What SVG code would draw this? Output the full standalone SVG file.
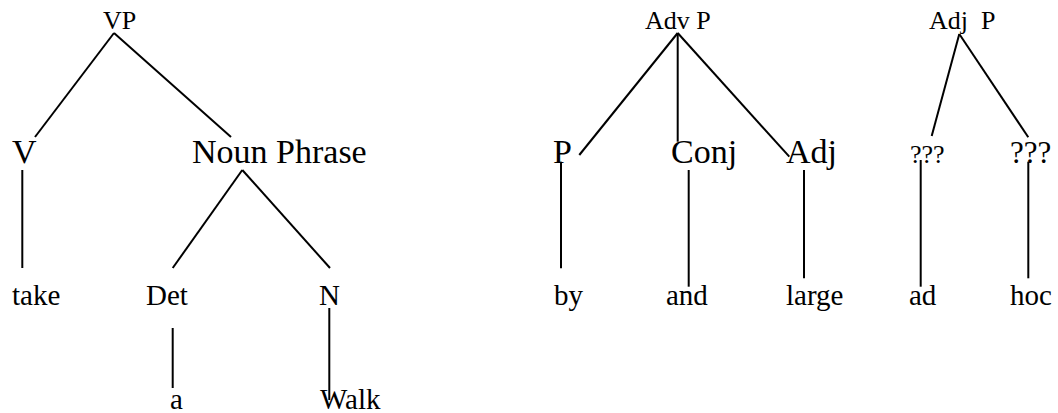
<svg xmlns="http://www.w3.org/2000/svg" width="1058" height="413" viewBox="0 0 1058 413">
<style>
text{font-family:"Liberation Serif","Times New Roman",serif;fill:#000;white-space:pre}
.s{font-size:26px}
.m{font-size:29px}
.l{font-size:34px}
.e line{stroke:#000;stroke-width:2;stroke-linecap:butt}
</style>
<rect width="1058" height="413" fill="#fff"/>
<g id="connectors" class="e">
<line x1="114" y1="33" x2="35" y2="137"/>
<line x1="114" y1="33" x2="231" y2="137"/>
<line x1="22.3" y1="170" x2="22.3" y2="268"/>
<line x1="242.3" y1="170" x2="172.7" y2="268"/>
<line x1="242.3" y1="170" x2="330" y2="268"/>
<line x1="172.7" y1="328" x2="172.7" y2="388"/>
<line x1="329.3" y1="308" x2="329.3" y2="400"/>
<line x1="677.7" y1="33" x2="579.3" y2="155"/>
<line x1="677.7" y1="33" x2="677.7" y2="141.7"/>
<line x1="677.7" y1="33" x2="789.3" y2="156.7"/>
<line x1="561" y1="161.7" x2="561" y2="268.3"/>
<line x1="688.7" y1="170" x2="688.7" y2="286.7"/>
<line x1="804" y1="170" x2="804" y2="278.3"/>
<line x1="959.3" y1="34" x2="931.7" y2="136"/>
<line x1="959.3" y1="34" x2="1028.3" y2="137.3"/>
<line x1="920.7" y1="160" x2="920.7" y2="286.7"/>
<line x1="1028.3" y1="161.7" x2="1028.3" y2="278.3"/>
</g>
<g id="n-vp"><text class="s" x="103" y="29">VP</text></g>
<g id="n-v"><text class="l" x="12" y="163">V</text></g>
<g id="n-np"><text class="l" x="192" y="163">Noun Phrase</text></g>
<g id="n-take"><text class="m" x="12" y="305">take</text></g>
<g id="n-det"><text class="m" x="146" y="305">Det</text></g>
<g id="n-n"><text class="m" x="319" y="305">N</text></g>
<g id="n-a"><text class="m" x="170" y="409">a</text></g>
<g id="n-walk"><text class="m" x="320" y="409">Walk</text></g>
<g id="n-advp"><text class="s" x="645" y="29">Adv P</text></g>
<g id="n-p"><text class="l" x="553" y="163">P</text></g>
<g id="n-conj"><text class="l" x="671" y="163">Conj</text></g>
<g id="n-adj"><text class="l" x="786" y="163">Adj</text></g>
<g id="n-by"><text class="m" x="554" y="305">by</text></g>
<g id="n-and"><text class="m" x="666" y="305">and</text></g>
<g id="n-large"><text class="m" x="786" y="305">large</text></g>
<g id="n-adjp"><text class="s" x="929" y="29">Adj  P</text></g>
<g id="n-q1"><text class="s" x="910" y="163">???</text></g>
<g id="n-q2"><text style="font-size:31px" x="1010" y="163">???</text></g>
<g id="n-ad"><text class="m" x="909" y="305">ad</text></g>
<g id="n-hoc"><text class="m" x="1010" y="305">hoc</text></g>
</svg>
